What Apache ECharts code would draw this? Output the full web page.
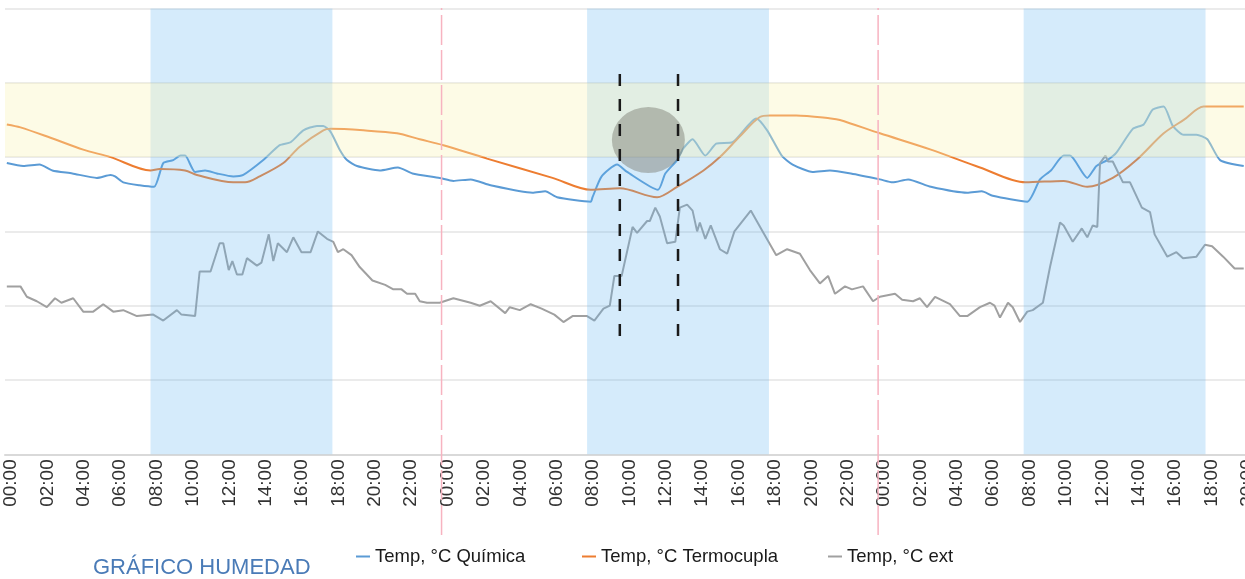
<!DOCTYPE html>
<html><head><meta charset="utf-8">
<script src="https://cdn.jsdelivr.net/npm/echarts@6/dist/echarts.min.js"></script>
<style>html,body{margin:0;padding:0;background:#fff}#c{width:1245px;height:579px}</style>
</head><body><div id="c"></div>
<script>
// ---- data (hours since day-1 00:00, temperature °C) ----
const quimicaHours=[0.1,1.0,1.9,2.6,3.7,5.05,5.8,6.05,6.5,7.4,8.2,8.7,9.25,9.65,9.9,10.45,11.0,11.65,12.55,13.1,14.2,15.1,15.7,16.4,17.15,17.5,17.9,18.4,18.8,19.35,20.6,21.6,22.4,23.9,24.65,25.6,26.7,29.0,29.7,30.35,32.2,32.3,32.8,33.65,34.2,35.9,36.3,36.95,37.3,37.8,38.5,39.1,40.0,41.3,41.9,42.7,43.3,44.4,45.35,46.5,48.1,48.8,49.65,50.9,52.9,53.7,54.3,56.2,56.9,57.5,58.2,58.55,59.5,60.0,60.6,61.1,62.0,62.6,63.1,63.7,64.2,64.8,65.5,66.1,66.8,68.1];
const quimicaTemps=[19.6,19.4,19.5,19.1,18.9,18.6,18.8,18.7,18.3,18.1,18.0,19.6,19.8,20.1,20.1,19.0,19.1,18.9,18.7,18.8,19.8,20.8,21.0,21.8,22.1,22.1,21.7,20.5,19.8,19.4,19.1,19.3,18.9,18.6,18.4,18.5,18.1,17.6,17.7,17.3,17.0,17.3,18.7,19.5,19.0,17.8,18.9,19.8,20.6,21.2,20.1,20.9,21.0,22.6,21.8,20.1,19.5,19.0,19.1,18.9,18.5,18.3,18.5,18.0,17.6,17.7,17.4,17.0,18.5,19.1,20.1,20.1,18.6,19.4,19.8,20.3,21.9,22.2,23.2,23.4,22.1,21.5,21.5,21.2,19.8,19.4];

const termoHours=[0.1,0.85,2.5,4.3,5.8,8.0,8.5,9.9,10.55,12.55,13.2,14.0,15.3,16.2,17.5,17.9,19.7,21.55,22.8,24.1,26.5,30.1,32.2,33.8,35.85,36.95,38.4,39.3,40.4,41.5,42.05,43.5,45.4,45.9,48.1,50.9,53.6,56.1,58.2,59.5,60.9,62.2,63.7,64.8,65.9,67.3,68.1];
const termoTemps=[22.2,22.0,21.3,20.5,20.0,19.1,19.2,19.1,18.8,18.3,18.3,18.7,19.6,20.7,21.8,21.9,21.8,21.6,21.2,20.8,19.9,18.6,17.8,17.9,17.3,18.0,19.1,20.0,21.4,22.7,22.8,22.8,22.6,22.5,21.6,20.5,19.3,18.3,18.4,18.0,18.6,19.8,21.6,22.5,23.4,23.4,23.4];

const extHours=[0.1,0.85,1.2,1.75,2.3,2.75,3.1,3.75,4.3,4.85,5.4,5.95,6.5,7.25,8.15,8.7,9.45,9.7,10.45,10.7,11.3,11.8,12.0,12.3,12.5,12.75,13.05,13.3,13.85,14.1,14.5,14.75,15.0,15.5,15.85,16.3,16.8,17.2,17.7,18.05,18.3,18.6,19.05,19.5,20.2,20.9,21.35,21.8,22.1,22.55,22.8,23.2,23.9,24.65,25.6,26.1,26.7,27.5,27.75,28.3,28.9,29.5,30.2,30.7,31.2,32.0,32.4,32.9,33.25,33.5,33.9,34.5,34.75,35.3,35.45,35.75,36.0,36.4,36.85,37.1,37.5,37.8,38.05,38.2,38.5,38.8,39.3,39.7,40.1,41.0,41.7,42.4,43.0,43.7,44.25,44.8,45.25,45.63,46.18,46.56,47.17,47.72,48.1,48.93,49.32,49.92,50.3,50.69,51.13,51.95,52.5,52.9,53.6,54.15,54.4,54.7,55.14,55.4,55.8,56.2,56.5,57.06,57.45,58.0,58.2,58.7,59.2,59.5,59.8,60.05,60.2,60.5,60.64,60.9,61.46,61.85,62.5,62.95,63.2,63.9,64.4,64.76,65.5,65.97,66.36,66.97,67.6,68.1];
const extTemps=[11.3,11.3,10.6,10.3,9.9,10.5,10.2,10.5,9.6,9.6,10.1,9.6,9.7,9.3,9.4,9.0,9.7,9.4,9.3,12.3,12.3,14.2,14.2,12.4,13.0,12.1,12.1,13.2,12.7,12.9,14.8,13.0,14.2,13.6,14.6,13.6,13.6,15.0,14.5,14.3,13.6,13.8,13.4,12.6,11.7,11.4,11.1,11.1,10.8,10.8,10.3,10.2,10.2,10.5,10.2,10.0,10.3,9.5,9.9,9.7,10.1,9.8,9.4,8.9,9.3,9.3,9.0,9.8,10.0,12.0,12.0,15.3,14.9,15.7,15.7,16.6,16.0,14.2,14.3,16.6,16.8,16.4,15.0,15.6,14.5,15.4,13.8,13.5,15.0,16.4,14.9,13.4,13.8,13.5,12.4,11.5,12.0,10.8,11.3,11.1,11.3,10.3,10.6,10.8,10.4,10.3,10.5,9.9,10.6,10.1,9.3,9.3,9.9,10.2,10.0,9.2,10.2,9.9,8.9,9.6,9.7,10.2,12.6,15.6,15.4,14.3,15.2,14.6,15.4,15.3,19.6,20.1,19.7,19.7,18.3,18.3,16.6,16.3,14.8,13.3,13.6,13.2,13.3,14.1,14.0,13.3,12.5,12.5];

const dayBands=[[8,18],[32,42],[56,66]];     // daytime 08:00-18:00
const comfortBand=[20,25];                    // °C
const midnights=[24,48];
const markerHours=[33.8,37.0];
const markerRange=[7.6,25.6];
const highlightPoint=[35.37,21.15];
const legendNames=['Temp, °C Química','Temp, °C Termocupla','Temp, °C ext'];
const titleText='GRÁFICO HUMEDAD';
const X_MAX=68.17;

function pairs(h,v){return h.map((x,i)=>[x,v[i]]);}
function hourLabel(v){
  if(Math.abs(v-Math.round(v))>1e-6) return '';
  const h=((Math.round(v)%24)+24)%24;
  return (h<10?'0':'')+h+':00';
}

const FONT='Liberation Sans';
const chart=echarts.init(document.getElementById('c'),null,{renderer:'canvas'});
const legendBase={top:542,icon:'rect',itemWidth:14,itemHeight:2,selectedMode:false,
  textStyle:{fontFamily:FONT,fontSize:18.5,color:'#1a1a1a'}};
const series=[
  {name:legendNames[0],type:'line',data:pairs(quimicaHours,quimicaTemps),color:'#5b9bd5',
   symbol:'none',smooth:0.2,lineStyle:{width:2},z:2,
   markArea:{silent:true,z:3,itemStyle:{color:'rgba(100,180,240,0.27)'},
     data:dayBands.map(b=>[{xAxis:b[0]},{xAxis:b[1]}])}},
  {name:legendNames[1],type:'line',data:pairs(termoHours,termoTemps),color:'#ed7d31',
   symbol:'none',smooth:0.3,lineStyle:{width:2},z:2,
   markArea:{silent:true,z:4,itemStyle:{color:'rgba(249,244,185,0.36)'},
     data:[[{yAxis:comfortBand[0]},{yAxis:comfortBand[1]}]]}},
  {name:legendNames[2],type:'line',data:pairs(extHours,extTemps),color:'#a0a0a0',
   symbol:'none',lineStyle:{width:2},z:2},
  {type:'scatter',data:[highlightPoint],symbol:'circle',symbolSize:[73,66],silent:true,z:5,
   itemStyle:{color:'rgba(125,128,118,0.6)'}}
];
markerHours.forEach(h=>series.push({type:'line',silent:true,symbol:'none',z:6,
  data:[[h,markerRange[1]],[h,markerRange[0]]],
  lineStyle:{color:'#1a1a1a',width:2.5,type:[12,13]}}));
midnights.forEach(h=>series.push({type:'line',silent:true,symbol:'none',z:6,
  xAxisIndex:1,yAxisIndex:1,data:[[h,0],[h,1]],
  lineStyle:{color:'#f7b3c0',width:1.5,type:[30,5]}}));

chart.setOption({
  animation:false,
  title:{text:titleText,left:88,top:552,textStyle:{fontFamily:FONT,fontSize:22,fontWeight:'normal',color:'#4a7bb7'}},
  legend:[
    Object.assign({},legendBase,{data:[legendNames[0]],left:351}),
    Object.assign({},legendBase,{data:[legendNames[1]],left:577}),
    Object.assign({},legendBase,{data:[legendNames[2]],left:823})
  ],
  grid:[{left:5,right:0,top:8.5,bottom:124.7,outerBoundsMode:'none',containLabel:false},
        {left:5,right:0,top:8,bottom:44,outerBoundsMode:'none',containLabel:false}],
  xAxis:[
    {type:'value',gridIndex:0,min:0,max:X_MAX,interval:2,
     axisLine:{show:true,lineStyle:{color:'#d9d9d9',width:2}},axisTick:{show:false},splitLine:{show:false},
     axisLabel:{rotate:90,formatter:hourLabel,fontFamily:FONT,fontSize:19,color:'#333333',margin:5,
       verticalAlign:'top',lineHeight:12}},
    {type:'value',gridIndex:1,min:0,max:X_MAX,show:false}
  ],
  yAxis:[
    {type:'value',gridIndex:0,min:0,max:30,interval:5,axisLabel:{show:false},axisLine:{show:false},axisTick:{show:false},
     splitLine:{lineStyle:{color:'#e4e4e4',width:1.5}}},
    {type:'value',gridIndex:1,min:0,max:1,show:false}
  ],
  series:series
});
</script>
</body></html>
